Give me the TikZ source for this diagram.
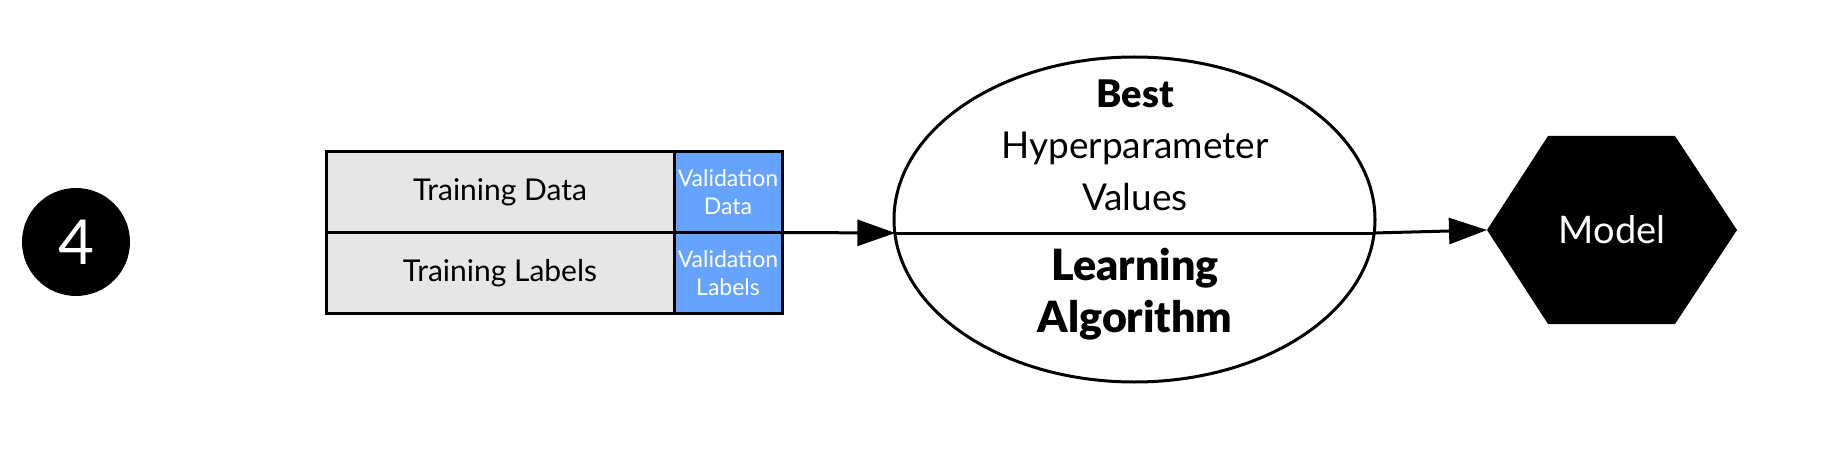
\documentclass[tikz,border=0pt]{standalone}
\usepackage{fontspec}
\setmainfont{Lato}[BoldFont={Lato Black}]
\usetikzlibrary{arrows.meta,shapes.geometric,calc}
\definecolor{cellgray}{RGB}{230,230,230}
\definecolor{cellblue}{RGB}{102,163,255}
\begin{document}
\begin{tikzpicture}[x=1pt,y=-1pt,
  cell/.style={draw=black,line width=3pt,inner sep=0pt,outer sep=0pt,minimum height=80.5pt},
  graycell/.style={cell,fill=cellgray,minimum width=348pt,font=\fontsize{30}{34}\selectfont},
  bluecell/.style={cell,fill=cellblue,minimum width=108pt,text=white,align=center,font=\fontsize{23}{28}\selectfont},
  conn/.style={line width=3pt},
  arr/.style={conn,-{Triangle[length=38pt,width=26pt]}},
  txt/.style={anchor=base,inner sep=0pt}]
\useasboundingbox (0,0) rectangle (1832,468);
% step circle
\node[circle,fill=black,minimum size=108pt,inner sep=0pt,text=white,font=\fontsize{62}{62}\selectfont] (four) at (76,242) {4};
% data table
\node[graycell] (trD) at (500,192.25) {Training Data};
\node[graycell] (trL) at (500,272.75) {Training Labels};
\node[bluecell] (valD) at (728,192.25) {Validation\\Data};
\node[bluecell] (valL) at (728,272.75) {Validation\\Labels};
% ellipse
\node[ellipse,draw=black,line width=3pt,minimum width=481pt,minimum height=325pt,inner sep=0pt,outer sep=0pt] (algo) at (1134.5,219.5) {};
\node[txt,font=\fontsize{38}{44}\selectfont\bfseries] (best) at (1135,108) {Best};
\node[txt,font=\fontsize{37}{42}\selectfont] (hyper) at (1135,159) {Hyperparameter};
\node[txt,font=\fontsize{37}{42}\selectfont] (values) at (1135,210) {Values};
\node[txt,font=\fontsize{43}{50}\selectfont\bfseries] (learn) at (1135,280) {Learning};
\node[txt,font=\fontsize{43}{50}\selectfont\bfseries] (alg) at (1135,332) {Algorithm};
\coordinate (inL) at (895.3,233);
\coordinate (inR) at (1373.7,233);
% model hexagon
\node[minimum width=250pt,minimum height=188pt,inner sep=0pt,outer sep=0pt] (model) at (1612,230) {};
\fill[black] (model.west) -- ($(model.north west)+(61,0)$) -- ($(model.north east)+(-62,0)$) -- (model.east) -- ($(model.south east)+(-62,0)$) -- ($(model.south west)+(61,0)$) -- cycle;
\node[text=white,font=\fontsize{38}{42}\selectfont] (modeltxt) at (model.center) {Model};
% connectors
\draw[arr] (valL.north east) -- (inL);
\draw[conn] (inL) -- (inR);
\draw[arr] (inR) -- (model.west);
\end{tikzpicture}
\end{document}
